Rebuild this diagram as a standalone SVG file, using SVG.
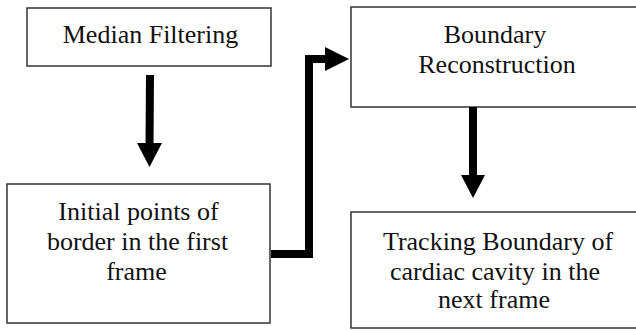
<svg xmlns="http://www.w3.org/2000/svg" width="636" height="331" viewBox="0 0 636 331">
<style>
.box{fill:#fff;stroke:#333;stroke-width:1.5}
.ln{fill:none;stroke:#000;stroke-width:8;stroke-linejoin:miter}
.hd{fill:#000}
</style>
<rect width="636" height="331" fill="#fff"/>
<g id="median">
<rect class="box" x="27" y="8" width="244" height="58"/>
<text font-family="Liberation Serif" font-size="26" fill="#111" text-anchor="middle" x="150.5" y="43">Median Filtering</text>
</g>
<g id="initial">
<rect class="box" x="7" y="184" width="263" height="139"/>
<text font-family="Liberation Serif" font-size="26" fill="#111" text-anchor="middle" x="138.5" y="220">Initial points of</text>
<text font-family="Liberation Serif" font-size="26" fill="#111" text-anchor="middle" x="137.5" y="250">border in the first</text>
<text font-family="Liberation Serif" font-size="26" fill="#111" text-anchor="middle" x="136.5" y="280">frame</text>
</g>
<g id="reconstruction">
<rect class="box" x="351" y="7" width="290" height="100"/>
<text font-family="Liberation Serif" font-size="26" fill="#111" text-anchor="middle" x="495" y="43">Boundary</text>
<text font-family="Liberation Serif" font-size="26" fill="#111" text-anchor="middle" x="497" y="73">Reconstruction</text>
</g>
<g id="tracking">
<rect class="box" x="351" y="212" width="290" height="116"/>
<text font-family="Liberation Serif" font-size="26" fill="#111" text-anchor="middle" x="498" y="250">Tracking Boundary of</text>
<text font-family="Liberation Serif" font-size="26" fill="#111" text-anchor="middle" x="495" y="280">cardiac cavity in the</text>
<text font-family="Liberation Serif" font-size="26" fill="#111" text-anchor="middle" x="494" y="308">next frame</text>
</g>
<g id="connectors">
<line class="ln" x1="150" y1="75" x2="149.5" y2="146"/>
<polygon class="hd" points="137,143 162,143 149.5,167"/>
<polyline class="ln" points="271,254 309,254 309,59 328,59"/>
<polygon class="hd" points="325,47 349,59 325,71"/>
<line class="ln" x1="473" y1="107" x2="473" y2="178"/>
<polygon class="hd" points="461,175 485,175 473,198"/>
</g>
</svg>
